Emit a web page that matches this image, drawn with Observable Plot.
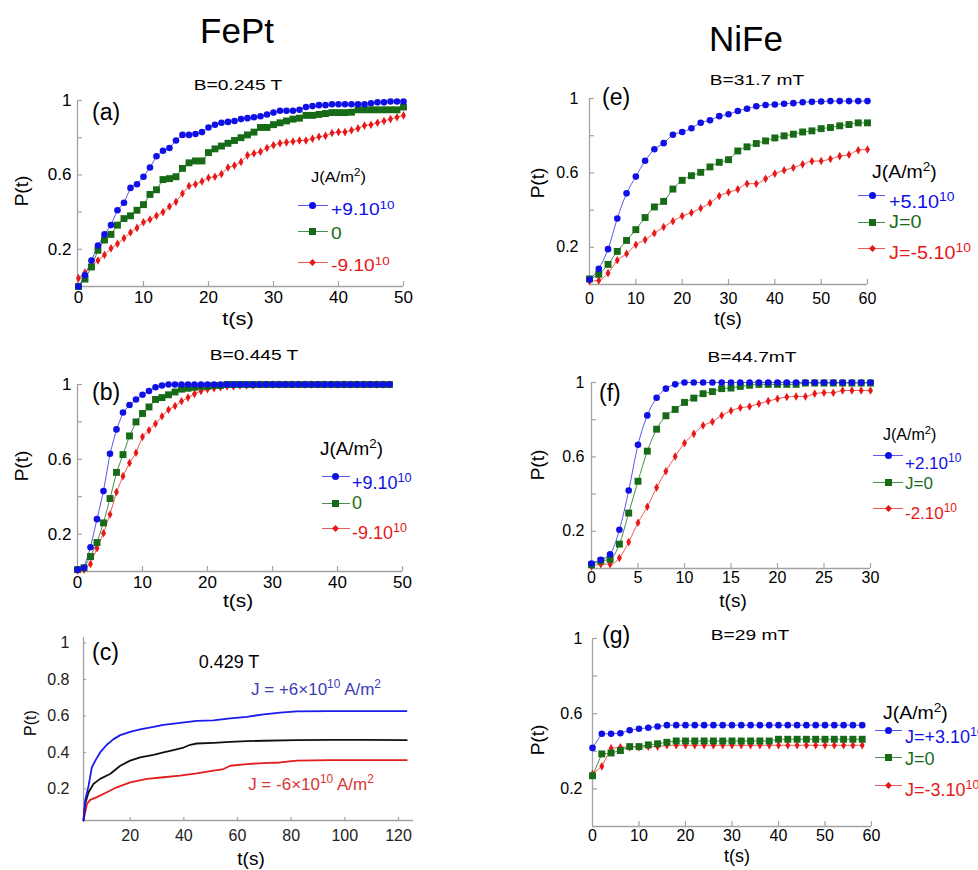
<!DOCTYPE html>
<html>
<head>
<meta charset="utf-8">
<script src="https://cdn.jsdelivr.net/npm/d3@7"></script>
<script src="https://cdn.jsdelivr.net/npm/@observablehq/plot@0.6"></script>
<style>
  body { margin: 0; background: #fff; }
  #fig { position: relative; width: 978px; height: 870px; overflow: hidden; background: #fff;
         font-family: "Liberation Sans", Arial, sans-serif; color: #000; }
  .abs { position: absolute; }
  .t { position: absolute; line-height: 1; white-space: nowrap; }
  .t sup { font-size: 0.7em; vertical-align: 0; position: relative; top: -0.55em; }
</style>
</head>
<body>
<div id="fig"></div>
<script>
// ---------------- DATA ----------------
// (a) FePt, B = 0.245 T, samples every 1 s from 0 to 50
const aStep = 1;
const aBlue  = [0.0,0.06,0.14,0.22,0.28,0.33,0.41,0.45,0.53,0.55,
                0.59,0.64,0.70,0.73,0.745,0.785,0.815,0.815,0.82,0.83,
                0.855,0.87,0.88,0.885,0.89,0.90,0.905,0.91,0.915,0.925,
                0.935,0.945,0.945,0.945,0.95,0.965,0.97,0.975,0.975,0.98,
                0.98,0.98,0.98,0.98,0.98,0.985,0.99,0.99,0.995,0.995,0.995];
const aGreen = [0.0,0.04,0.105,0.195,0.25,0.28,0.33,0.365,0.38,0.41,
                0.44,0.495,0.52,0.575,0.58,0.59,0.635,0.665,0.675,0.675,
                0.72,0.74,0.755,0.77,0.785,0.80,0.815,0.83,0.855,0.855,
                0.87,0.88,0.89,0.90,0.905,0.92,0.92,0.925,0.93,0.935,
                0.935,0.935,0.937,0.95,0.95,0.95,0.95,0.95,0.95,0.95,0.965];
const aRed   = [0.045,0.075,0.11,0.14,0.17,0.205,0.23,0.26,0.29,0.315,
                0.345,0.36,0.38,0.40,0.43,0.455,0.50,0.54,0.55,0.565,
                0.585,0.59,0.605,0.64,0.65,0.67,0.705,0.715,0.725,0.745,
                0.76,0.77,0.775,0.78,0.785,0.785,0.795,0.805,0.81,0.825,
                0.83,0.83,0.84,0.85,0.865,0.87,0.88,0.89,0.90,0.91,0.92];

// (b) FePt, B = 0.445 T, samples every 1 s from 0 to 48
const bStep = 1;
const bBlue  = [0.01,0.02,0.13,0.28,0.43,0.63,0.76,0.85,0.89,0.92,
                0.945,0.965,0.985,0.995,1,1,1,1,1,1,
                1,1,1,1,1,1,1,1,1,1,
                1,1,1,1,1,1,1,1,1,1,
                1,1,1,1,1,1,1,1,1];
const bGreen = [0.01,0.02,0.08,0.155,0.26,0.39,0.53,0.625,0.725,0.80,
                0.845,0.88,0.92,0.93,0.945,0.96,0.975,0.98,0.985,0.99,
                0.99,0.995,0.995,1,1,1,1,1,1,1,
                1,1,1,1,1,1,1,1,1,1,
                1,1,1,1,1,1,1,1,1];
const bRed   = [0.005,0.01,0.04,0.125,0.205,0.305,0.425,0.51,0.58,0.635,
                0.72,0.755,0.79,0.83,0.865,0.885,0.91,0.93,0.95,0.965,
                0.975,0.98,0.985,0.99,0.99,0.995,0.995,0.995,1,1,
                1,1,1,1,1,1,1,1,1,1,
                1,1,1,1,1,1,1,1,1];

// (c) FePt, 0.429 T, continuous traces
const cBlueT  = [2.6,3.2,4.5,5.7,7,8.8,11.3,13.8,16.3,20,23.7,28.7,32.4,38.6,44.8,51,57.3,63.5,69.7,75.9,82.1,94.5,107,123];
const cBlueP  = [0.027,0.136,0.218,0.318,0.355,0.40,0.442,0.473,0.495,0.513,0.527,0.54,0.551,0.562,0.573,0.576,0.587,0.595,0.609,0.618,0.625,0.627,0.627,0.627];
const cBlackT = [2.6,3.2,4.5,6.3,8.8,12.5,16.3,20,23.7,28.7,32.4,36.1,39.9,42.4,44.8,51.1,57.3,63.5,69.7,82.1,94.5,107,123.1];
const cBlackP = [0.027,0.118,0.182,0.227,0.255,0.282,0.327,0.355,0.373,0.387,0.40,0.413,0.427,0.442,0.449,0.453,0.458,0.462,0.464,0.467,0.469,0.469,0.467];
const cRedT   = [2.6,3.9,5.1,7.6,11.3,15,20,26.2,32.4,38.6,44.8,51.1,54.8,57.3,63.5,69.7,75.9,82.1,94.5,107,123.1];
const cRedP   = [0.027,0.118,0.14,0.155,0.182,0.209,0.236,0.255,0.264,0.273,0.285,0.30,0.309,0.327,0.336,0.342,0.345,0.355,0.358,0.358,0.358];

// (e) NiFe, B = 31.7 mT, samples every 2 s from 0 to 60
const eStep = 2;
const eBlue  = [0.027,0.085,0.19,0.355,0.49,0.58,0.665,0.727,0.76,0.805,0.82,0.84,0.87,0.883,0.905,0.915,
                0.933,0.945,0.958,0.965,0.968,0.972,0.975,0.98,0.982,0.984,0.986,0.986,0.986,0.986,0.986];
const eGreen = [0.03,0.055,0.108,0.178,0.237,0.295,0.36,0.417,0.447,0.513,0.56,0.585,0.603,0.632,0.657,0.671,
                0.718,0.74,0.758,0.772,0.788,0.799,0.808,0.82,0.826,0.838,0.844,0.853,0.86,0.869,0.869];
const eRed   = [0.018,0.022,0.061,0.13,0.165,0.214,0.24,0.276,0.309,0.34,0.368,0.386,0.41,0.438,0.476,0.496,
                0.512,0.542,0.542,0.569,0.596,0.614,0.628,0.646,0.663,0.664,0.675,0.69,0.698,0.722,0.726];

// (f) NiFe, B = 44.7 mT, samples every 1 s from 0 to 30
const fStep = 1;
const fBlue  = [0.027,0.047,0.077,0.208,0.419,0.665,0.823,0.918,0.967,0.99,
                1,1,1,1,1,1,1,1,1,1,1,1,1,1,1,1,1,1,1,1,1];
const fGreen = [0.02,0.041,0.049,0.131,0.298,0.469,0.631,0.749,0.821,0.855,
                0.893,0.916,0.94,0.951,0.967,0.97,0.979,0.985,0.99,0.99,
                0.99,0.99,0.99,0.997,0.997,0.997,0.997,0.997,0.997,0.997,0.997];
const fRed   = [0.011,0.023,0.023,0.056,0.142,0.246,0.332,0.435,0.523,0.602,
                0.674,0.724,0.769,0.789,0.823,0.848,0.864,0.871,0.886,0.90,
                0.913,0.922,0.925,0.925,0.94,0.945,0.945,0.957,0.957,0.957,0.957];

// (g) NiFe, B = 29 mT, samples every 2 s from 0 to 58
const gStep = 2;
const gBlue  = [0.418,0.493,0.493,0.496,0.512,0.52,0.525,0.532,0.539,0.539,0.539,0.539,0.539,0.539,0.539,
                0.539,0.539,0.539,0.539,0.539,0.539,0.539,0.539,0.539,0.539,0.539,0.539,0.539,0.539,0.539];
const gGreen = [0.27,0.386,0.391,0.404,0.425,0.425,0.434,0.44,0.448,0.455,0.455,0.455,0.455,0.455,0.455,
                0.455,0.455,0.455,0.455,0.455,0.464,0.464,0.464,0.464,0.464,0.464,0.464,0.464,0.464,0.464];
const gRed   = [0.279,0.32,0.416,0.422,0.422,0.422,0.425,0.425,0.432,0.432,0.432,0.432,0.432,0.432,0.432,
                0.432,0.432,0.432,0.432,0.432,0.432,0.432,0.432,0.432,0.432,0.432,0.432,0.432,0.432,0.432];

// tick values
const yTickLabelsStd = [0.2, 0.6, 1];
const yTickAllStd = [0.2, 0.4, 0.6, 0.8, 1];
const xTicks50 = [0, 10, 20, 30, 40, 50];
const xTicks60 = [0, 10, 20, 30, 40, 50, 60];
const xTicks30 = [0, 5, 10, 15, 20, 25, 30];
const xTicksC = [20, 40, 60, 80, 100, 120];
const yTicksC = [0.2, 0.4, 0.6, 0.8, 1];

// ---------------- STYLE ----------------
const AX = "#a3a3a3";
const S = {
  blue:  {fill: "#1010e6", line: "#5a5aee", symbol: "circle",  r: 3.3},
  green: {fill: "#176b17", line: "#4a8c4a", symbol: "square",  r: 3.9},
  red:   {fill: "#e81818", line: "#f05a5a", symbol: "diamond", r: 2.6}
};
const fig = document.getElementById("fig");

const toSeries = (vals, step) => vals.map((p, i) => ({t: i * step, p}));
const zipSeries = (ts, ps) => ts.map((t, i) => ({t, p: ps[i]}));

function panel(cfg) {
  const {left, top, width, height, ml, mr, mt, mb, xd, yd, xTicks, xLabels, yTicks, yLabels,
         xPad, yPad, fontSize, series, tickLen = 5, lineMarks} = cfg;
  const pxX = (width - ml - mr) / (xd[1] - xd[0]);
  const pxY = (height - mt - mb) / (yd[1] - yd[0]);
  const marks = [
    Plot.ruleX([xd[0]], {stroke: AX, strokeWidth: 1.3}),
    Plot.ruleY([yd[0]], {stroke: AX, strokeWidth: 1.3}),
    Plot.ruleY(yTicks, {x1: xd[0], x2: xd[0] + tickLen / pxX, stroke: AX, strokeWidth: 1.2}),
    Plot.ruleX(xTicks.filter(v => v > xd[0] + 1e-9), {y1: yd[0], y2: yd[0] + tickLen / pxY, stroke: AX, strokeWidth: 1.2})
  ];
  if (lineMarks) marks.push(...lineMarks);
  if (series) for (const s of series) {
    const st = S[s.key];
    marks.push(Plot.line(s.data, {x: "t", y: "p", stroke: st.line, strokeWidth: 1, curve: s.curve || "linear"}));
  }
  if (series) for (const s of series) {
    const st = S[s.key];
    marks.push(Plot.dot(s.data, {x: "t", y: "p", fill: st.fill, stroke: "none", symbol: st.symbol, r: st.r}));
  }
  const svg = Plot.plot({
    width, height, marginLeft: ml, marginRight: mr, marginTop: mt, marginBottom: mb,
    x: {domain: xd, ticks: xLabels, tickSize: 0, tickPadding: xPad, label: null, tickFormat: d => String(d)},
    y: {domain: yd, ticks: yLabels, tickSize: 0, tickPadding: yPad, label: null, tickFormat: d => String(d)},
    style: {fontFamily: "'Liberation Sans', Arial, sans-serif", fontSize: fontSize + "px", color: cfg.tickColor || "#000",
            background: "none", overflow: "visible"},
    marks
  });
  const holder = document.createElement("div");
  holder.className = "abs";
  holder.style.left = left + "px";
  holder.style.top = top + "px";
  holder.appendChild(svg);
  fig.appendChild(holder);
}

function txt(html, x, y, size, opt = {}) {
  const d = document.createElement("div");
  d.className = "t";
  d.innerHTML = html;
  d.style.left = x + "px";
  d.style.top = y + "px";
  d.style.fontSize = size + "px";
  d.style.color = opt.color || "#000";
  const start = opt.anchor === "start";
  d.style.transformOrigin = start ? "0 50%" : "50% 50%";
  d.style.transform = `translate(${start ? "0" : "-50%"}, -50%)` +
    (opt.rotate ? ` rotate(${opt.rotate}deg)` : "") + (opt.sx ? ` scaleX(${opt.sx})` : "");
  fig.appendChild(d);
}

function legend(cfg) {
  const {hx, hy, hsize, hsx, x0, x1, xm, tx, tsize, tsx, rows} = cfg;
  txt("J(A/m<sup>2</sup>)", hx, hy, hsize, {anchor: "start", sx: hsx});
  for (const r of rows) {
    const st = S[r.key];
    const ln = document.createElement("div");
    ln.className = "abs";
    Object.assign(ln.style, {left: x0 + "px", top: (r.y - 0.5) + "px", width: (x1 - x0) + "px", height: "1px", background: st.line});
    fig.appendChild(ln);
    const mk = document.createElement("div");
    mk.className = "abs";
    const sz = r.key === "red" ? 5 : 7;
    Object.assign(mk.style, {left: (xm - sz / 2) + "px", top: (r.y - sz / 2) + "px", width: sz + "px", height: sz + "px",
      background: st.fill, borderRadius: r.key === "blue" ? "50%" : "0",
      transform: r.key === "red" ? "rotate(45deg)" : "none"});
    fig.appendChild(mk);
    txt(r.html, tx, r.ty, tsize, {anchor: "start", color: st.fill, sx: tsx});
  }
}

const BSX = 1.37; // horizontal stretch of the field labels in the reference

// ---------------- TITLES ----------------
txt("FePt", 237, 30, 35);
txt("NiFe", 746, 38, 35);

// ---------------- PANEL (a) ----------------
panel({left: 0, top: 70, width: 430, height: 250, ml: 77, mr: 27, mt: 30, mb: 34,
  xd: [-0.15, 50], yd: [0, 1], xTicks: xTicks50, xLabels: xTicks50, yTicks: yTickAllStd, yLabels: yTickLabelsStd,
  xPad: 4, yPad: 6, fontSize: 17,
  series: [{key: "red", data: toSeries(aRed, aStep)}, {key: "green", data: toSeries(aGreen, aStep)}, {key: "blue", data: toSeries(aBlue, aStep)}]});
txt("B=0.245 T", 238, 85, 14, {sx: BSX});
txt("(a)", 92, 112, 23, {anchor: "start"});
txt("P(t)", 21, 191, 19, {rotate: -90});
txt("t(s)", 238, 318, 19, {sx: 1.15});
legend({hx: 311, hy: 176, hsize: 15, hsx: 1.1, x0: 298, x1: 328, xm: 312, tx: 331, tsize: 16, tsx: 1.2, rows: [
  {key: "blue", y: 205, ty: 210, html: "+9.10<sup>10</sup>"},
  {key: "green", y: 231, ty: 234, html: "0"},
  {key: "red", y: 262, ty: 266, html: "-9.10<sup>10</sup>"}]});

// ---------------- PANEL (b) ----------------
panel({left: 0, top: 350, width: 430, height: 250, ml: 77, mr: 28, mt: 34, mb: 29,
  xd: [0, 50], yd: [0, 1], xTicks: xTicks50, xLabels: xTicks50, yTicks: yTickAllStd, yLabels: yTickLabelsStd,
  xPad: 4, yPad: 6, fontSize: 17,
  series: [{key: "red", data: toSeries(bRed, bStep)}, {key: "green", data: toSeries(bGreen, bStep)}, {key: "blue", data: toSeries(bBlue, bStep)}]});
txt("B=0.445 T", 254, 355, 14, {sx: BSX});
txt("(b)", 92, 392, 23, {anchor: "start"});
txt("P(t)", 21, 466, 19, {rotate: -90});
txt("t(s)", 238, 600, 19, {sx: 1.1});
legend({hx: 320, hy: 449, hsize: 18, hsx: 1.05, x0: 322, x1: 350, xm: 335, tx: 352, tsize: 18, rows: [
  {key: "blue", y: 476, ty: 483, html: "+9.10<sup>10</sup>"},
  {key: "green", y: 503, ty: 503, html: "0"},
  {key: "red", y: 528, ty: 533, html: "-9.10<sup>10</sup>"}]});

// ---------------- PANEL (c) ----------------
panel({left: 0, top: 620, width: 430, height: 250, ml: 83, mr: 17, mt: 17, mb: 50,
  xd: [2.6, 125.6], yd: [0.027, 1.03], xTicks: xTicksC, xLabels: xTicksC, yTicks: yTicksC, yLabels: yTicksC,
  xPad: 9, yPad: 14, fontSize: 16, tickLen: 3, tickColor: "#222",
  lineMarks: [
    Plot.line(zipSeries(cRedT, cRedP), {x: "t", y: "p", stroke: "#e31c1c", strokeWidth: 1.8}),
    Plot.line(zipSeries(cBlackT, cBlackP), {x: "t", y: "p", stroke: "#111", strokeWidth: 1.8}),
    Plot.line(zipSeries(cBlueT, cBlueP), {x: "t", y: "p", stroke: "#1a1aee", strokeWidth: 1.8})
  ]});
txt("(c)", 92, 652, 23, {anchor: "start"});
txt("0.429 T", 229, 662, 18);
txt("J = +6×10<sup>10</sup> A/m<sup>2</sup>", 316, 689, 17, {color: "#3d3db4"});
txt("J = -6×10<sup>10</sup> A/m<sup>2</sup>", 311, 784, 17, {color: "#dc3535"});
txt("P(t)", 31, 723, 16, {rotate: -90});
txt("t(s)", 251, 858, 19);

// ---------------- PANEL (e) ----------------
panel({left: 500, top: 70, width: 478, height: 250, ml: 89, mr: 111, mt: 28, mb: 36,
  xd: [0, 60], yd: [0, 1], xTicks: xTicks60, xLabels: xTicks60, yTicks: yTickAllStd, yLabels: yTickLabelsStd,
  xPad: 8, yPad: 11, fontSize: 16,
  series: [{key: "red", data: toSeries(eRed, eStep), curve: "monotone-x"}, {key: "green", data: toSeries(eGreen, eStep), curve: "monotone-x"}, {key: "blue", data: toSeries(eBlue, eStep), curve: "monotone-x"}]});
txt("B=31.7 mT", 757, 80, 14, {sx: BSX});
txt("(e)", 602, 97, 23, {anchor: "start"});
txt("P(t)", 537, 183, 19, {rotate: -90});
txt("t(s)", 728, 318, 19);
legend({hx: 872, hy: 172, hsize: 18, hsx: 1.08, x0: 858, x1: 885, xm: 872, tx: 889, tsize: 18, tsx: 1.1, rows: [
  {key: "blue", y: 195, ty: 202, html: "+5.10<sup>10</sup>"},
  {key: "green", y: 222, ty: 222, html: "J=0"},
  {key: "red", y: 248, ty: 253, html: "J=-5.10<sup>10</sup>"}]});

// ---------------- PANEL (f) ----------------
panel({left: 500, top: 340, width: 478, height: 260, ml: 91, mr: 108, mt: 42, mb: 32,
  xd: [0, 30], yd: [0, 1], xTicks: xTicks30, xLabels: xTicks30, yTicks: yTickAllStd, yLabels: yTickLabelsStd,
  xPad: 3, yPad: 7, fontSize: 16,
  series: [{key: "red", data: toSeries(fRed, fStep), curve: "monotone-x"}, {key: "green", data: toSeries(fGreen, fStep), curve: "monotone-x"}, {key: "blue", data: toSeries(fBlue, fStep), curve: "monotone-x"}]});
txt("B=44.7mT", 752, 357, 14, {sx: BSX});
txt("(f)", 599, 393, 23, {anchor: "start"});
txt("P(t)", 537, 465, 19, {rotate: -90});
txt("t(s)", 733, 600, 19);
legend({hx: 883, hy: 435, hsize: 16, x0: 873, x1: 903, xm: 888, tx: 905, tsize: 17, rows: [
  {key: "blue", y: 455, ty: 463, html: "+2.10<sup>10</sup>"},
  {key: "green", y: 482, ty: 483, html: "J=0"},
  {key: "red", y: 508, ty: 513, html: "-2.10<sup>10</sup>"}]});

// ---------------- PANEL (g) ----------------
panel({left: 500, top: 620, width: 478, height: 250, ml: 92, mr: 107, mt: 18, mb: 44,
  xd: [0, 60], yd: [0, 1], xTicks: xTicks60, xLabels: xTicks60, yTicks: yTickAllStd, yLabels: yTickLabelsStd,
  xPad: 3, yPad: 10, fontSize: 16,
  series: [{key: "red", data: toSeries(gRed, gStep)}, {key: "green", data: toSeries(gGreen, gStep)}, {key: "blue", data: toSeries(gBlue, gStep)}]});
txt("B=29 mT", 750, 635, 14, {sx: BSX});
txt("(g)", 602, 635, 23, {anchor: "start"});
txt("P(t)", 537, 740, 19, {rotate: -90});
txt("t(s)", 737, 856, 18);
legend({hx: 883, hy: 713, hsize: 18, hsx: 1.08, x0: 875, x1: 902, xm: 888, tx: 905, tsize: 18, rows: [
  {key: "blue", y: 730, ty: 737, html: "J=+3.10<sup>10</sup>"},
  {key: "green", y: 757, ty: 759, html: "J=0"},
  {key: "red", y: 785, ty: 790, html: "J=-3.10<sup>10</sup>"}]});
</script>
</body>
</html>
